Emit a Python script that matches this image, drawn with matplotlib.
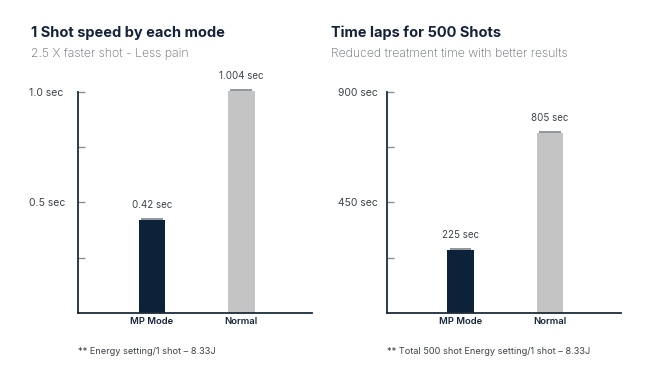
import matplotlib.pyplot as plt
from matplotlib.ticker import FixedLocator

plt.rcParams['font.family'] = ['Inter', 'DejaVu Sans']

modes = ["MP Mode", "Normal"]
bar_colors = ["#0b2239", "#c4c4c4"]

# left panel: seconds per shot
shot_speed = [0.42, 1.004]
shot_labels = ["0.42 sec", "1.004 sec"]
shot_ticks = [0.5, 1.0]
shot_ticklabels = ["0.5 sec", "1.0 sec"]
shot_minor = [0.25, 0.75]

# right panel: total time for 500 shots (bar heights as drawn in the picture)
laps_bars = [256, 733]
laps_labels = ["225 sec", "805 sec"]
laps_ticks = [450, 900]
laps_ticklabels = ["450 sec", "900 sec"]
laps_minor = [225, 675]

spine_col = "#1c2b3c"
tick_col = "#8a9099"
title_col = "#14233a"
sub_col = "#5f656d"

fig = plt.figure(figsize=(6.5, 3.82), dpi=100)
fig.patch.set_facecolor("white")

panels = [
    dict(rect=[0.12, 0.181, 0.36, 0.578], vals=shot_speed, labels=shot_labels,
         ymax=1.0, ticks=shot_ticks, ticklabels=shot_ticklabels, minor=shot_minor,
         title="1 Shot speed by each mode", sub="2.5 X faster shot - Less pain",
         note="** Energy setting/1 shot \u2013 8.33J", tx=31 / 650),
    dict(rect=[0.595, 0.181, 0.36, 0.578], vals=laps_bars, labels=laps_labels,
         ymax=900, ticks=laps_ticks, ticklabels=laps_ticklabels, minor=laps_minor,
         title="Time laps for 500 Shots", sub="Reduced treatment time with better results",
         note="** Total 500 shot Energy setting/1 shot \u2013 8.33J", tx=331 / 650),
]

x = [0, 1]
w = 0.30
for p in panels:
    ax = fig.add_axes(p["rect"])
    bars = ax.bar(x, p["vals"], width=w, color=bar_colors, zorder=2)
    for b in bars:
        b.set_clip_on(False)
    # small cap line on top of each bar
    for xi, v in zip(x, p["vals"]):
        ax.hlines(v + p["ymax"] * 0.006, xi - w * 0.4, xi + w * 0.4,
                  color="#7d848c", lw=1.2, zorder=3, clip_on=False)
    for xi, v, lab in zip(x, p["vals"], p["labels"]):
        ax.annotate(lab, (xi, v), xytext=(0, 7), textcoords="offset points",
                    ha="center", va="bottom", fontsize=7, color="#3d434b",
                    annotation_clip=False)

    ax.set_xlim(-0.83, 1.795)
    ax.set_ylim(0, p["ymax"])
    ax.set_xticks(x)
    ax.set_xticklabels(modes, fontsize=6.8, color=title_col, fontweight="semibold")
    ax.tick_params(axis="x", length=0, pad=3)

    ax.yaxis.set_major_locator(FixedLocator(p["ticks"]))
    ax.yaxis.set_minor_locator(FixedLocator(p["minor"]))
    ax.set_yticklabels(p["ticklabels"], fontsize=7.5, color="#3d434b", ha="left")
    ax.tick_params(axis="y", which="both", direction="in", length=5,
                   width=1, color=tick_col, pad=35)

    for s in ["top", "right"]:
        ax.spines[s].set_visible(False)
    for s in ["left", "bottom"]:
        ax.spines[s].set_color(spine_col)
        ax.spines[s].set_linewidth(1.3)

    fig.text(p["tx"], 1 - 33 / 382, p["title"], fontsize=10.5, fontweight="bold",
             color=title_col, va="center")
    fig.text(p["tx"], 1 - 54 / 382, p["sub"], fontsize=8.8, color=sub_col,
             va="center", fontweight="light")
    fig.text(p["rect"][0], 1 - 352 / 382, p["note"], fontsize=6.6,
             color="#3d434b", va="center")

fig.savefig("out.png", dpi=100, facecolor="white")
